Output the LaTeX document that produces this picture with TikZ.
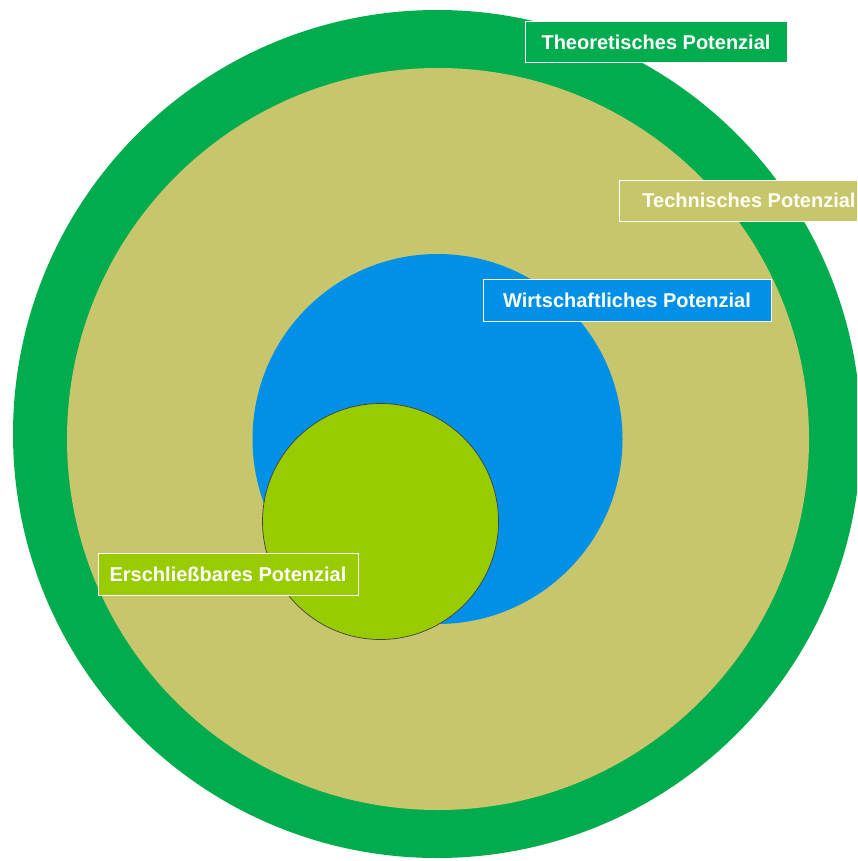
\documentclass[tikz,border=0pt]{standalone}
\usepackage{fontspec}
\setmainfont{Liberation Sans}
\definecolor{theogreen}{RGB}{0,172,78}
\definecolor{techtan}{RGB}{200,198,108}
\definecolor{wirtblue}{RGB}{0,144,232}
\definecolor{erslime}{RGB}{153,204,0}
\tikzset{
  ring/.style={circle, inner sep=0pt, outer sep=0pt},
  lbl/.style={rectangle, draw=white, line width=0.8pt, text=white, inner sep=0pt,
    font=\fontsize{20}{24}\selectfont\bfseries, minimum height=41pt}
}
\begin{document}
\begin{tikzpicture}[x=1pt,y=-1pt]
\useasboundingbox (0,0) rectangle (857,861);
\clip (0,0) rectangle (857,861);
\fill[white] (0,0) rectangle (857,861);
\node[ring, fill=theogreen, minimum size=848pt] (theo) at (437,434) {};
\node[ring, fill=techtan, minimum size=742pt] (tech) at (438,439) {};
\node[ring, fill=wirtblue, minimum size=370pt] (wirt) at (437.5,439) {};
\node[ring, fill=erslime, draw=black!75, line width=0.7pt, minimum size=236pt] (ers) at (380.5,521.5) {};
\node[lbl, fill=theogreen, minimum width=262pt] (ltheo) at (656,42) {Theoretisches Potenzial};
\node[lbl, fill=techtan, minimum width=260pt, text=white!95!yellow] (ltech) at (749,200.5) {Technisches Potenzial};
\node[lbl, fill=wirtblue, minimum width=288pt, minimum height=42pt] (lwirt) at (627,300) {Wirtschaftliches Potenzial};
\node[lbl, fill=erslime, minimum width=260pt, minimum height=42pt] (lers) at (228,574) {Erschließbares Potenzial};
\end{tikzpicture}
\end{document}
